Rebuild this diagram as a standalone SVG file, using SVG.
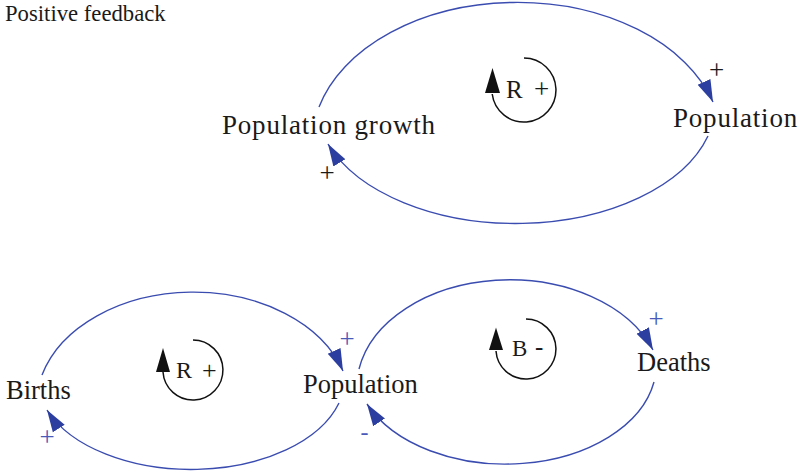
<svg xmlns="http://www.w3.org/2000/svg" width="804" height="472" viewBox="0 0 804 472">
<style>
.lbl{font-family:"Liberation Serif","Times New Roman",serif;fill:#1a1a1a}
.big{font-size:27px;letter-spacing:0.8px}
.mid{font-size:26.5px}
.loop{font-family:"Liberation Serif","Times New Roman",serif;font-size:23px;fill:#1a1a1a}
.sign{font-family:"Liberation Serif","Times New Roman",serif;font-size:27px;text-anchor:middle}
.blk{fill:#1a1a1a}
.blu{fill:#4a5ab8}
.conn{fill:none;stroke:#3a4cb0;stroke-width:1.4}
.circ{fill:none;stroke:#111;stroke-width:1.5}
</style>
<defs>
<marker id="ah" markerUnits="userSpaceOnUse" markerWidth="24" markerHeight="16" viewBox="0 0 24 16" refX="22" refY="8" orient="auto">
<path d="M0,1 L22,8 L0,15 Z" fill="#2c3fa0"/>
</marker>
</defs>
<rect width="804" height="472" fill="#fff"/>
<text class="lbl" x="5" y="21" style="font-size:22.7px">Positive feedback</text>

<g id="connectors">
<path class="conn" d="M319,107 A205,141 0 0 1 713,102" marker-end="url(#ah)"/>
<path class="conn" d="M708,136 A200,121 0 0 1 328,144" marker-end="url(#ah)"/>
<path class="conn" d="M42,375 A157,113 0 0 1 343,371" marker-end="url(#ah)"/>
<path class="conn" d="M339,403 A154,92 0 0 1 47,410" marker-end="url(#ah)"/>
<path class="conn" d="M359,369 A153,108 0 0 1 653,350" marker-end="url(#ah)"/>
<path class="conn" d="M654,382 A151,100 0 0 1 367,404" marker-end="url(#ah)"/>
</g>

<g id="node-population-growth"><text class="lbl big" x="222" y="134">Population growth</text></g>
<g id="node-population-top"><text class="lbl big" x="673" y="127">Population</text></g>
<g id="node-births"><text class="lbl mid" x="6" y="399">Births</text></g>
<g id="node-population-bottom"><text class="lbl mid" x="303" y="393">Population</text></g>
<g id="node-deaths"><text class="lbl mid" x="637" y="371">Deaths</text></g>

<g id="signs">
<text class="sign blk" x="716.5" y="78.5">+</text>
<text class="sign blk" x="327" y="182">+</text>
<text class="sign blu" x="347" y="348">+</text>
<text class="sign blu" x="47" y="446">+</text>
<text class="sign blu" x="656" y="328">+</text>
<text class="sign blu" x="364.5" y="440" style="font-size:24px">-</text>
</g>

<g id="loop-r-top">
<path class="circ" d="M524,58 A32,32 0 1 1 492.2,94"/>
<path d="M492.5,68 L485,93 L500,93 Z" fill="#111"/>
<text class="loop" x="506" y="98" style="font-size:25px">R</text>
<text class="loop" x="534" y="98" style="font-size:27px">+</text>
</g>
<g id="loop-r-bottom">
<path class="circ" d="M193,340 A30,30 0 1 1 163,372"/>
<path d="M163,348 L156,372 L170,372 Z" fill="#111"/>
<text class="loop" x="176" y="378" style="font-size:24px">R</text>
<text class="loop" x="202" y="379" style="font-size:26px">+</text>
</g>
<g id="loop-b">
<path class="circ" d="M526,319 A30,30 0 1 1 496,351"/>
<path d="M496,327.5 L489,350 L503,350 Z" fill="#111"/>
<text class="loop" x="512" y="356">B</text>
<text class="loop" x="535" y="355" style="font-size:25px">-</text>
</g>
</svg>
